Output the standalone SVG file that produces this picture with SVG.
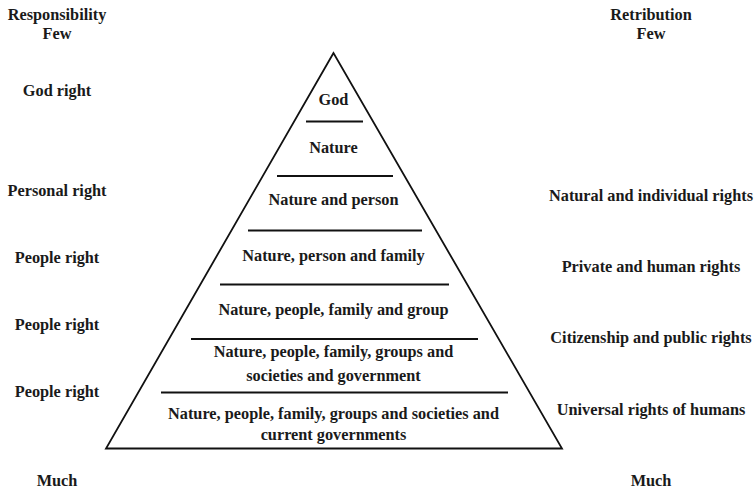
<svg xmlns="http://www.w3.org/2000/svg" width="756" height="491" viewBox="0 0 756 491">
<style>
text{font-family:"Liberation Serif","Times New Roman",serif;font-weight:bold;font-size:16.3px;fill:#1a1a1a;text-anchor:middle}
.ln{stroke:#111;stroke-width:1.8;fill:none}
</style>
<rect width="756" height="491" fill="#fff"/>
<g id="pyramid">
<polygon class="ln" points="333.5,53 106,448.5 562,448.5" stroke-linejoin="miter"/>
</g>
<g id="connectors">
<line class="ln" x1="306" y1="121.5" x2="363" y2="121.5"/>
<line class="ln" x1="277" y1="176" x2="393" y2="176"/>
<line class="ln" x1="248" y1="230.5" x2="422" y2="230.5"/>
<line class="ln" x1="220" y1="284.5" x2="449" y2="284.5"/>
<line class="ln" x1="191" y1="339" x2="478" y2="339"/>
<line class="ln" x1="161" y1="392.5" x2="508" y2="392.5"/>
</g>
<g id="tier1"><text x="333.5" y="105">God</text></g>
<g id="tier2"><text x="333.5" y="153">Nature</text></g>
<g id="tier3"><text x="333.5" y="205">Nature and person</text></g>
<g id="tier4"><text x="333.5" y="261">Nature, person and family</text></g>
<g id="tier5"><text x="333.5" y="315">Nature, people, family and group</text></g>
<g id="tier6"><text x="333.5" y="357">Nature, people, family, groups and</text><text x="333.5" y="381">societies and government</text></g>
<g id="tier7"><text x="333.5" y="419">Nature, people, family, groups and societies and</text><text x="333.5" y="440">current governments</text></g>
<g id="left">
<text x="57" y="20">Responsibility</text>
<text x="57" y="39">Few</text>
<text x="57" y="96">God right</text>
<text x="57" y="196">Personal right</text>
<text x="57" y="263">People right</text>
<text x="57" y="330">People right</text>
<text x="57" y="397">People right</text>
<text x="57" y="486">Much</text>
</g>
<g id="right">
<text x="651" y="20">Retribution</text>
<text x="651" y="39">Few</text>
<text x="651" y="201">Natural and individual rights</text>
<text x="651" y="272">Private and human rights</text>
<text x="651" y="343">Citizenship and public rights</text>
<text x="651" y="415">Universal rights of humans</text>
<text x="651" y="486">Much</text>
</g>
</svg>
